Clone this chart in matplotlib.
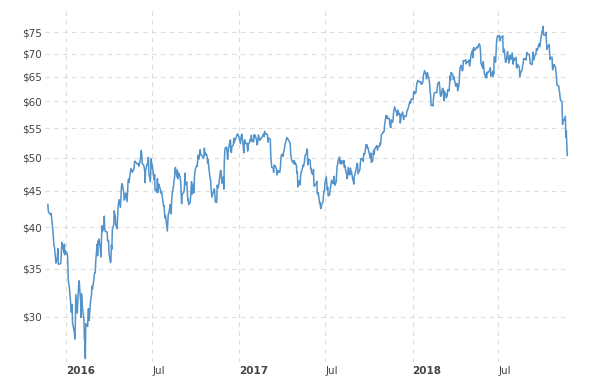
import pandas as pd
import matplotlib
matplotlib.use("Agg")
import matplotlib.pyplot as plt
import matplotlib.transforms as mtransforms
from matplotlib.ticker import FixedLocator, NullLocator

# daily WTI closes, dates as MM-DD per year
d2015 = ["11-24", "11-25", "11-27", "11-30", "12-01", "12-04", "12-07", "12-08", "12-11", "12-14",
         "12-15", "12-16", "12-18", "12-21", "12-22", "12-23", "12-24", "12-28", "12-29", "12-30", "12-31"]
p2015 = [43.04, 42.10, 41.85, 41.65, 41.85, 39.97, 37.65, 37.51, 35.62, 36.31,
         37.35, 35.52, 35.50, 35.60, 36.14, 37.50, 38.10, 36.81, 37.87, 36.60, 37.04]

d2016 = ["01-04", "01-05", "01-06", "01-07", "01-08", "01-11", "01-12", "01-13", "01-14", "01-15",
         "01-19", "01-20", "01-21", "01-22", "01-25", "01-26", "01-27", "01-28", "01-29", "02-01",
         "02-02", "02-03", "02-04", "02-05", "02-08", "02-09", "02-10", "02-11", "02-12", "02-16",
         "02-17", "02-18", "02-19", "02-22", "02-23", "02-24", "02-25", "02-26", "02-29", "03-01",
         "03-02", "03-03", "03-04", "03-07", "03-08", "03-09", "03-10", "03-11", "03-14", "03-15",
         "03-16", "03-17", "03-18", "03-21", "03-22", "03-23", "03-24", "03-28", "03-29", "03-30",
         "03-31", "04-01", "04-04", "04-05", "04-06", "04-07", "04-08", "04-11", "04-12", "04-13",
         "04-14", "04-15", "04-18", "04-19", "04-20", "04-21", "04-22", "04-25", "04-26", "04-27",
         "04-28", "04-29", "05-02", "05-03", "05-04", "05-05", "05-06", "05-09", "05-10", "05-11",
         "05-12", "05-13", "05-16", "05-17", "05-18", "05-19", "05-20", "05-23", "05-24", "05-25",
         "05-26", "05-27", "05-31", "06-01", "06-02", "06-03", "06-06", "06-07", "06-08", "06-09",
         "06-10", "06-13", "06-14", "06-15", "06-16", "06-17", "06-20", "06-21", "06-22", "06-23",
         "06-24", "06-27", "06-28", "06-29", "06-30", "07-01", "07-05", "07-06", "07-07", "07-08",
         "07-11", "07-12", "07-13", "07-14", "07-15", "07-18", "07-19", "07-20", "07-21", "07-22",
         "07-25", "07-26", "07-27", "07-28", "07-29", "08-01", "08-02", "08-03", "08-04", "08-05",
         "08-08", "08-09", "08-10", "08-11", "08-12", "08-15", "08-16", "08-17", "08-18", "08-19",
         "08-22", "08-23", "08-24", "08-25", "08-26", "08-29", "08-30", "08-31", "09-01", "09-02",
         "09-06", "09-07", "09-08", "09-09", "09-12", "09-13", "09-14", "09-15", "09-16", "09-19",
         "09-20", "09-21", "09-22", "09-23", "09-26", "09-27", "09-28", "09-29", "09-30", "10-03",
         "10-04", "10-05", "10-06", "10-07", "10-10", "10-11", "10-12", "10-13", "10-14", "10-17",
         "10-18", "10-19", "10-20", "10-21", "10-24", "10-25", "10-26", "10-27", "10-28", "10-31",
         "11-01", "11-02", "11-03", "11-04", "11-07", "11-08", "11-09", "11-10", "11-11", "11-14",
         "11-15", "11-16", "11-17", "11-18", "11-21", "11-22", "11-23", "11-25", "11-28", "11-29",
         "11-30", "12-01", "12-02", "12-05", "12-06", "12-07", "12-08", "12-09", "12-12", "12-13",
         "12-14", "12-15", "12-16", "12-19", "12-20", "12-21", "12-22", "12-23", "12-27", "12-28",
         "12-29", "12-30"]
p2016 = [36.76, 35.97, 33.97, 33.27, 33.16, 31.41, 30.44, 30.48, 31.20, 29.42,
         28.46, 27.90, 29.53, 32.19, 30.34, 31.45, 32.30, 33.21, 33.66, 31.62,
         29.90, 32.29, 31.63, 30.86, 29.71, 27.96, 27.54, 26.19, 29.32, 29.05,
         30.68, 30.77, 29.62, 31.48, 31.87, 32.15, 33.07, 32.78, 33.75, 34.39,
         34.57, 34.56, 35.92, 37.90, 36.50, 38.29, 37.84, 38.50, 37.18, 36.34,
         38.46, 40.20, 39.44, 39.91, 41.45, 39.79, 39.46, 39.39, 38.28, 38.32,
         38.34, 36.79, 35.70, 35.89, 37.75, 37.26, 39.72, 40.36, 42.17, 41.76,
         41.50, 40.36, 39.78, 41.08, 42.63, 43.18, 43.73, 42.64, 44.04, 45.33,
         46.03, 45.92, 44.78, 43.65, 43.78, 44.32, 44.66, 43.44, 44.66, 46.23,
         46.70, 46.21, 47.72, 48.31, 48.19, 48.12, 47.75, 48.12, 48.62, 49.48,
         49.48, 49.33, 49.01, 49.07, 49.14, 48.69, 49.68, 50.37, 51.23, 50.56,
         49.07, 48.90, 48.50, 48.05, 46.18, 47.97, 48.98, 49.13, 49.14, 50.11,
         47.64, 46.32, 47.85, 49.88, 48.40, 48.95, 46.64, 47.43, 45.14, 45.20,
         44.75, 46.80, 44.75, 45.68, 45.95, 45.24, 44.65, 44.94, 44.75, 44.19,
         42.83, 42.90, 41.89, 41.19, 41.54, 40.05, 39.51, 40.81, 41.80, 41.84,
         43.04, 42.80, 41.75, 43.49, 44.48, 45.72, 46.57, 46.77, 48.25, 48.51,
         47.05, 48.09, 46.77, 47.33, 47.64, 46.98, 46.32, 44.68, 43.16, 44.44,
         44.83, 45.50, 47.62, 45.88, 46.28, 44.90, 43.62, 43.85, 43.03, 43.30,
         44.05, 45.34, 46.32, 44.48, 45.93, 44.67, 47.05, 47.83, 48.24, 48.81,
         48.69, 49.79, 50.44, 49.81, 51.35, 50.79, 50.44, 50.44, 50.35, 49.94,
         50.29, 51.60, 50.43, 50.85, 50.52, 49.96, 49.18, 49.72, 48.70, 46.83,
         46.67, 45.32, 44.66, 44.07, 44.89, 45.02, 45.27, 44.66, 43.41, 43.32,
         45.81, 45.57, 45.42, 45.69, 47.49, 48.03, 47.96, 46.06, 47.08, 45.23,
         49.44, 51.06, 51.68, 51.79, 50.93, 49.77, 50.84, 51.50, 52.83, 52.98,
         51.04, 50.90, 51.90, 52.12, 53.30, 52.49, 52.95, 53.02, 53.90, 54.06,
         53.77, 53.75]

d2017 = ["01-03", "01-04", "01-05", "01-06", "01-09", "01-10", "01-11", "01-12", "01-13", "01-17",
         "01-18", "01-19", "01-20", "01-23", "01-24", "01-25", "01-26", "01-27", "01-30", "01-31",
         "02-01", "02-02", "02-03", "02-06", "02-07", "02-08", "02-09", "02-10", "02-13", "02-14",
         "02-15", "02-16", "02-17", "02-21", "02-22", "02-23", "02-24", "02-27", "02-28", "03-01",
         "03-02", "03-03", "03-06", "03-07", "03-08", "03-09", "03-10", "03-13", "03-14", "03-15",
         "03-16", "03-17", "03-20", "03-21", "03-22", "03-23", "03-24", "03-27", "03-28", "03-29",
         "03-30", "03-31", "04-03", "04-04", "04-05", "04-06", "04-07", "04-10", "04-11", "04-12",
         "04-13", "04-17", "04-18", "04-19", "04-20", "04-21", "04-24", "04-25", "04-26", "04-27",
         "04-28", "05-01", "05-02", "05-03", "05-04", "05-05", "05-08", "05-09", "05-10", "05-11",
         "05-12", "05-15", "05-16", "05-17", "05-18", "05-19", "05-22", "05-23", "05-24", "05-25",
         "05-26", "05-30", "05-31", "06-01", "06-02", "06-05", "06-06", "06-07", "06-08", "06-09",
         "06-12", "06-13", "06-14", "06-15", "06-16", "06-19", "06-20", "06-21", "06-22", "06-23",
         "06-26", "06-27", "06-28", "06-29", "06-30", "07-03", "07-05", "07-06", "07-07", "07-10",
         "07-11", "07-12", "07-13", "07-14", "07-17", "07-18", "07-19", "07-20", "07-21", "07-24",
         "07-25", "07-26", "07-27", "07-28", "07-31", "08-01", "08-02", "08-03", "08-04", "08-07",
         "08-08", "08-09", "08-10", "08-11", "08-14", "08-15", "08-16", "08-17", "08-18", "08-21",
         "08-22", "08-23", "08-24", "08-25", "08-28", "08-29", "08-30", "08-31", "09-01", "09-05",
         "09-06", "09-07", "09-08", "09-11", "09-12", "09-13", "09-14", "09-15", "09-18", "09-19",
         "09-20", "09-21", "09-22", "09-25", "09-26", "09-27", "09-28", "09-29", "10-02", "10-03",
         "10-04", "10-05", "10-06", "10-09", "10-10", "10-11", "10-12", "10-13", "10-16", "10-17",
         "10-18", "10-19", "10-20", "10-23", "10-24", "10-25", "10-26", "10-27", "10-30", "10-31",
         "11-01", "11-02", "11-03", "11-06", "11-07", "11-08", "11-09", "11-10", "11-13", "11-14",
         "11-15", "11-16", "11-17", "11-20", "11-21", "11-22", "11-24", "11-27", "11-28", "11-29",
         "11-30", "12-01", "12-04", "12-05", "12-06", "12-07", "12-08", "12-11", "12-12", "12-13",
         "12-14", "12-15", "12-18", "12-19", "12-20", "12-21", "12-22", "12-26", "12-27", "12-28",
         "12-29"]
p2017 = [52.36, 53.26, 53.77, 53.98, 51.95, 50.82, 52.19, 53.01, 52.36, 52.45,
         51.12, 51.39, 52.33, 52.77, 53.18, 52.75, 53.78, 53.17, 52.63, 52.75,
         53.90, 53.55, 53.81, 53.01, 52.17, 52.34, 53.00, 53.86, 52.93, 53.20,
         53.11, 53.36, 53.40, 54.06, 53.59, 54.45, 53.99, 54.04, 54.00, 53.82,
         52.63, 53.33, 53.19, 53.14, 50.28, 49.28, 48.49, 48.40, 47.72, 48.86,
         48.75, 48.78, 48.22, 47.34, 47.99, 47.70, 47.97, 47.73, 48.37, 49.51,
         50.35, 50.60, 50.24, 51.03, 51.15, 51.70, 52.24, 53.08, 53.40, 53.11,
         53.18, 52.62, 52.46, 50.49, 50.26, 49.64, 49.23, 49.56, 49.62, 48.97,
         49.33, 48.84, 47.65, 47.79, 45.55, 46.23, 46.46, 45.84, 47.28, 47.81,
         47.83, 48.86, 48.64, 49.07, 49.35, 50.33, 50.73, 51.47, 51.36, 48.90,
         49.80, 49.66, 48.32, 48.36, 47.66, 47.40, 48.19, 45.72, 45.64, 45.83,
         46.10, 46.40, 44.73, 44.46, 44.74, 43.20, 43.34, 42.48, 42.53, 43.01,
         43.38, 44.24, 44.88, 44.93, 46.04, 47.07, 45.13, 45.52, 44.25, 44.40,
         45.04, 45.49, 46.08, 46.54, 46.02, 46.40, 47.12, 46.79, 45.77, 46.34,
         47.89, 48.75, 49.04, 49.71, 50.17, 49.16, 49.59, 49.03, 49.57, 49.37,
         49.07, 49.59, 48.54, 48.81, 47.59, 47.55, 46.78, 47.09, 48.51, 47.37,
         47.64, 48.41, 47.43, 47.87, 46.57, 46.44, 45.96, 47.23, 47.29, 48.66,
         49.16, 49.09, 47.48, 48.07, 48.23, 49.30, 49.89, 49.89, 49.91, 49.48,
         50.69, 50.55, 50.66, 52.22, 51.88, 52.14, 51.56, 51.67, 50.58, 50.42,
         49.98, 50.79, 49.29, 49.58, 50.92, 51.30, 50.60, 51.45, 51.87, 51.88,
         52.04, 51.29, 51.84, 51.90, 52.47, 52.18, 52.64, 53.90, 54.15, 54.38,
         54.30, 54.54, 55.64, 57.35, 57.20, 56.81, 57.17, 56.74, 56.76, 55.70,
         55.33, 55.14, 56.55, 56.09, 56.83, 58.02, 58.95, 58.11, 57.99, 57.30,
         57.40, 58.36, 57.47, 57.62, 55.96, 56.69, 57.36, 57.99, 57.14, 56.60,
         57.04, 57.30, 57.16, 57.46, 58.09, 58.36, 58.47, 59.97, 59.64, 59.84,
         60.46]

d2018 = ["01-02", "01-03", "01-04", "01-05", "01-08", "01-09", "01-10", "01-11", "01-12", "01-16",
         "01-17", "01-18", "01-19", "01-22", "01-23", "01-24", "01-25", "01-26", "01-29", "01-30",
         "01-31", "02-01", "02-02", "02-05", "02-06", "02-07", "02-08", "02-09", "02-12", "02-13",
         "02-14", "02-15", "02-16", "02-20", "02-21", "02-22", "02-23", "02-26", "02-27", "02-28",
         "03-01", "03-02", "03-05", "03-06", "03-07", "03-08", "03-09", "03-12", "03-13", "03-14",
         "03-15", "03-16", "03-19", "03-20", "03-21", "03-22", "03-23", "03-26", "03-27", "03-28",
         "03-29", "04-02", "04-03", "04-04", "04-05", "04-06", "04-09", "04-10", "04-11", "04-12",
         "04-13", "04-16", "04-17", "04-18", "04-19", "04-20", "04-23", "04-24", "04-25", "04-26",
         "04-27", "04-30", "05-01", "05-02", "05-03", "05-04", "05-07", "05-08", "05-09", "05-10",
         "05-11", "05-14", "05-15", "05-16", "05-17", "05-18", "05-21", "05-22", "05-23", "05-24",
         "05-25", "05-29", "05-30", "05-31", "06-01", "06-04", "06-05", "06-06", "06-07", "06-08",
         "06-11", "06-12", "06-13", "06-14", "06-15", "06-18", "06-19", "06-20", "06-21", "06-22",
         "06-25", "06-26", "06-27", "06-28", "06-29", "07-02", "07-03", "07-05", "07-06", "07-09",
         "07-10", "07-11", "07-12", "07-13", "07-16", "07-17", "07-18", "07-19", "07-20", "07-23",
         "07-24", "07-25", "07-26", "07-27", "07-30", "07-31", "08-01", "08-02", "08-03", "08-06",
         "08-07", "08-08", "08-09", "08-10", "08-13", "08-14", "08-15", "08-16", "08-17", "08-20",
         "08-21", "08-22", "08-23", "08-24", "08-27", "08-28", "08-29", "08-30", "08-31", "09-04",
         "09-05", "09-06", "09-07", "09-10", "09-11", "09-12", "09-13", "09-14", "09-17", "09-18",
         "09-19", "09-20", "09-21", "09-24", "09-25", "09-26", "09-27", "09-28", "10-01", "10-02",
         "10-03", "10-04", "10-05", "10-08", "10-09", "10-10", "10-11", "10-12", "10-15", "10-16",
         "10-17", "10-18", "10-19", "10-22", "10-23", "10-24", "10-25", "10-26", "10-29", "10-30",
         "10-31", "11-01", "11-02", "11-05", "11-06", "11-07", "11-08", "11-09", "11-12", "11-13",
         "11-14", "11-15", "11-16", "11-19", "11-20", "11-21", "11-23"]
p2018 = [60.37, 61.61, 61.98, 61.49, 61.71, 62.92, 63.62, 63.81, 64.22, 63.82,
         63.95, 63.94, 63.39, 63.60, 64.37, 65.51, 65.61, 66.24, 65.54, 64.52,
         64.82, 65.81, 65.45, 64.17, 63.38, 61.80, 61.14, 59.19, 59.26, 59.14,
         60.60, 61.33, 61.70, 61.79, 61.70, 62.79, 63.55, 63.90, 63.05, 61.64,
         60.99, 61.25, 62.57, 62.60, 61.15, 60.12, 62.04, 61.36, 60.71, 60.96,
         61.19, 62.34, 62.06, 63.54, 65.17, 64.30, 65.88, 65.55, 65.25, 64.38,
         64.94, 63.01, 63.51, 63.37, 63.54, 62.06, 63.42, 65.51, 66.82, 67.02,
         67.39, 66.22, 66.52, 68.47, 68.29, 68.38, 68.64, 67.70, 68.05, 68.19,
         68.10, 68.57, 67.25, 67.93, 68.43, 69.72, 70.73, 69.06, 71.14, 71.36,
         70.70, 70.96, 71.31, 71.49, 71.49, 71.28, 72.24, 72.13, 71.84, 70.71,
         67.88, 66.73, 68.21, 67.04, 65.81, 64.75, 65.52, 64.73, 65.95, 65.74,
         66.10, 66.36, 66.64, 66.89, 65.06, 65.85, 65.07, 66.22, 65.54, 69.30,
         68.08, 70.53, 72.76, 73.45, 74.15, 73.89, 74.19, 72.94, 73.80, 73.85,
         74.11, 70.38, 70.33, 71.01, 68.06, 68.08, 68.76, 69.46, 70.46, 67.89,
         68.52, 69.30, 69.61, 68.69, 70.13, 68.76, 67.66, 68.96, 68.49, 69.01,
         69.17, 66.94, 66.81, 67.63, 67.20, 67.04, 65.01, 65.46, 65.91, 66.43,
         67.35, 67.86, 68.86, 68.72, 68.87, 68.53, 69.51, 70.25, 69.80, 69.87,
         68.72, 67.77, 67.75, 67.54, 69.25, 70.37, 68.59, 68.99, 69.85, 69.85,
         71.12, 70.80, 70.78, 72.08, 72.28, 71.57, 72.12, 73.25, 75.30, 75.23,
         76.41, 74.34, 74.29, 74.29, 74.96, 73.17, 70.97, 71.34, 71.92, 72.09,
         69.75, 68.65, 69.12, 69.17, 66.43, 66.82, 67.33, 67.59, 67.04, 66.18,
         65.31, 63.69, 63.14, 63.10, 62.21, 61.67, 60.67, 60.19, 59.93, 55.69,
         56.25, 56.46, 56.46, 57.20, 53.43, 54.63, 50.42]

y_ticks = [30, 35, 40, 45, 50, 55, 60, 65, 70, 75]
x_ticks = ["2016-01-01", "2016-07-01", "2017-01-01", "2017-07-01", "2018-01-01", "2018-07-01"]
x_labels = ["2016", "Jul", "2017", "Jul", "2018", "Jul"]

dates = pd.to_datetime(["2015-" + d for d in d2015] + ["2016-" + d for d in d2016]
                       + ["2017-" + d for d in d2017] + ["2018-" + d for d in d2018])
prices = p2015 + p2016 + p2017 + p2018

fig = plt.figure(figsize=(6, 3.78), dpi=100)
ax = fig.add_axes([0.075, 0.042, 0.872, 0.931])

ax.plot(dates, prices, color="#5393cc", lw=1.1)

ax.set_yscale("log")
ax.set_ylim(25.9, 80.5)
ax.yaxis.set_major_locator(FixedLocator(y_ticks))
ax.yaxis.set_minor_locator(NullLocator())
ax.set_yticklabels(["$%d" % v for v in y_ticks])

ax.set_xlim(pd.Timestamp("2015-11-18"), pd.Timestamp("2018-11-25"))
ax.set_xticks(pd.to_datetime(x_ticks))
ax.set_xticklabels(x_labels)
shift = mtransforms.ScaledTranslation(3 / 100, 0, fig.dpi_scale_trans)
for lab in ax.get_xticklabels():
    lab.set_horizontalalignment("left")
    lab.set_transform(lab.get_transform() + shift)
    if lab.get_text() != "Jul":
        lab.set_fontweight("bold")
        lab.set_color("#222222")

ax.grid(True, linestyle=(0, (4, 4)), color="#dddddd", lw=0.8)
for s in ax.spines.values():
    s.set_visible(False)
ax.tick_params(axis="both", length=0, labelsize=7.5, colors="#444444")
ax.tick_params(axis="y", pad=2)
ax.tick_params(axis="x", pad=3)

fig.savefig("out.png", dpi=100)
